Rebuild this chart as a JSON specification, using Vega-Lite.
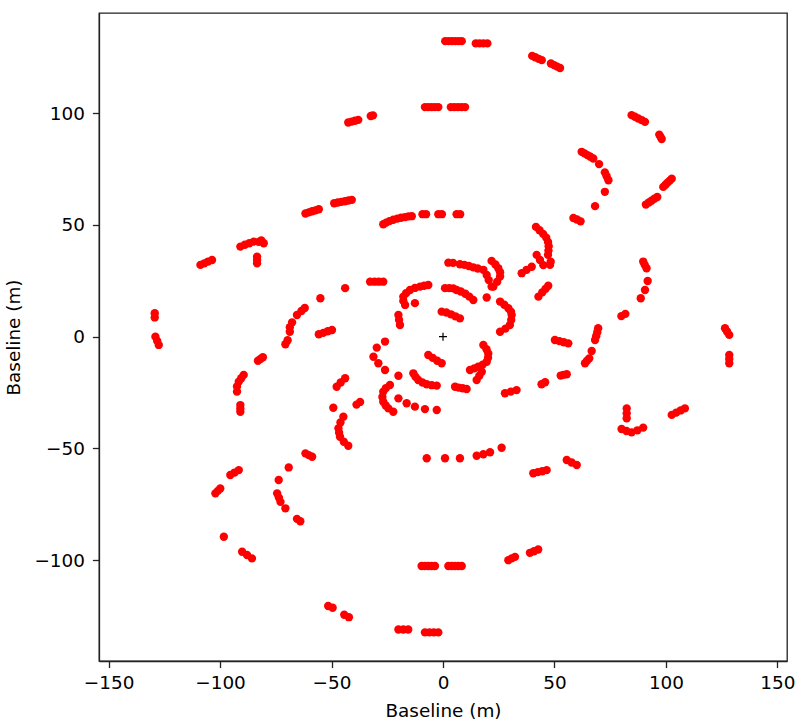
{
  "$schema": "https://vega.github.io/schema/vega-lite/v6.json",
  "width": 688,
  "height": 648,
  "autosize": "none",
  "padding": {"left": 99, "top": 13, "right": 19, "bottom": 65},
  "background": "white",
  "config": {
    "view": {"stroke": "#222", "strokeWidth": 1.3},
    "axis": {
      "labelFont": "DejaVu Sans", "titleFont": "DejaVu Sans",
      "labelFontSize": 18.4, "titleFontSize": 18.4, "titleFontWeight": "normal",
      "labelColor": "#000", "titleColor": "#000",
      "domainColor": "#222", "domainWidth": 1.3, "tickColor": "#222", "tickWidth": 1.3,
      "tickSize": 6.6, "grid": false
    }
  },
  "datasets": {
    "uv": [
      {"u":1,"v":132.2},{"u":2.5,"v":132.2},{"u":4,"v":132.2},{"u":5.5,"v":132.2},{"u":7,"v":132.2},{"u":8.4,"v":132.2},
      {"u":14.7,"v":131.2},{"u":16.4,"v":131.2},{"u":18.1,"v":131.2},{"u":19.9,"v":131.2},
      {"u":40,"v":125.6},{"u":41.4,"v":125},{"u":42.9,"v":124.3},{"u":44.3,"v":123.7},
      {"u":48.4,"v":122.2},{"u":49.8,"v":121.5},{"u":51.2,"v":120.8},{"u":52.5,"v":120.2},
      {"u":-8.1,"v":102.7},{"u":-6.6,"v":102.7},{"u":-5.1,"v":102.7},{"u":-3.6,"v":102.7},{"u":-2.1,"v":102.7},
      {"u":3.5,"v":102.7},{"u":5.1,"v":102.7},{"u":6.7,"v":102.7},{"u":8.3,"v":102.7},{"u":9.9,"v":102.7},
      {"u":-42.5,"v":95.8},{"u":-41,"v":96.2},{"u":-39.5,"v":96.6},{"u":-38,"v":97},
      {"u":-32.4,"v":98.7},{"u":-31.4,"v":99},
      {"u":-48.8,"v":59.7},{"u":-47.2,"v":60},{"u":-45.6,"v":60.3},{"u":-44,"v":60.6},{"u":-42.4,"v":60.9},{"u":-40.9,"v":61.2},
      {"u":-61.7,"v":55.1},{"u":-60.2,"v":55.6},{"u":-58.7,"v":56.1},{"u":-57.2,"v":56.5},{"u":-55.7,"v":57},
      {"u":-26.8,"v":50.3},{"u":-25.5,"v":51},{"u":-24,"v":51.7},{"u":-22.3,"v":52.3},{"u":-20.5,"v":52.8},{"u":-18.8,"v":53.2},{"u":-17,"v":53.5},{"u":-15.5,"v":53.8},{"u":-14,"v":53.9},
      {"u":-9.2,"v":54.8},{"u":-7.6,"v":54.8},{"u":-2.1,"v":54.8},{"u":-0.5,"v":54.8},{"u":6.1,"v":54.8},{"u":7.7,"v":54.8},
      {"u":84.6,"v":99.1},{"u":86.1,"v":98.4},{"u":87.6,"v":97.6},{"u":89.1,"v":96.9},{"u":90.6,"v":96.1},
      {"u":97,"v":90.4},{"u":97.6,"v":89.4},{"u":98.1,"v":88.4},
      {"u":98.8,"v":67},{"u":99.8,"v":68},{"u":100.7,"v":68.9},{"u":101.7,"v":69.8},{"u":102.6,"v":70.7},
      {"u":91,"v":59.1},{"u":92.3,"v":60},{"u":93.5,"v":60.8},{"u":94.8,"v":61.7},{"u":96.1,"v":62.5},
      {"u":62.2,"v":82.7},{"u":63.5,"v":82},{"u":64.8,"v":81.2},{"u":66.1,"v":80.5},{"u":67.4,"v":79.7},
      {"u":70,"v":77.2},{"u":72.6,"v":73.5},{"u":73.4,"v":71.8},{"u":74.2,"v":70},{"u":72.6,"v":64.8},{"u":68.2,"v":58.4},
      {"u":58.5,"v":53.1},{"u":60.1,"v":52.4},{"u":61.7,"v":51.6},
      {"u":41.7,"v":49.1},{"u":43.3,"v":47.6},{"u":44.9,"v":46},{"u":46.3,"v":44.3},{"u":47.1,"v":42.4},{"u":47.4,"v":40.5},{"u":47.3,"v":38.5},{"u":47.1,"v":36.6},
      {"u":42,"v":36.6},{"u":43.5,"v":34.3},{"u":45,"v":32},
      {"u":35.3,"v":28.4},{"u":37.5,"v":29.9},{"u":39.8,"v":31.3},
      {"u":48,"v":32.1},{"u":48.3,"v":33.5},
      {"u":42.8,"v":17.9},{"u":44.5,"v":19.8},{"u":46,"v":21.4},{"u":47.2,"v":22.8},
      {"u":2.4,"v":33.1},{"u":4.5,"v":33},{"u":7.6,"v":32.4},{"u":9.6,"v":32.1},{"u":11.6,"v":31.6},{"u":13.6,"v":31},{"u":15.6,"v":30.5},{"u":18.1,"v":29.9},{"u":19.6,"v":27.6},{"u":20.5,"v":25.3},{"u":21.8,"v":22.4},
      {"u":21.8,"v":33.9},{"u":23.5,"v":32.3},{"u":24.8,"v":30.6},{"u":25.6,"v":28.8},{"u":25.6,"v":26.9},{"u":24.3,"v":24.6},{"u":22.6,"v":22.4},
      {"u":0.9,"v":21.7},{"u":2.8,"v":21.7},{"u":4.6,"v":21.6},
      {"u":6.1,"v":20.9},{"u":8,"v":20.2},{"u":10,"v":19.2},{"u":11.8,"v":17.9},{"u":13.6,"v":16.4},
      {"u":19.6,"v":17.5},
      {"u":25.6,"v":15.7},{"u":27.5,"v":14.3},{"u":29.3,"v":12.7},{"u":30.5,"v":11.2},{"u":30.8,"v":9.7},{"u":30.6,"v":7.5},{"u":30,"v":5.2},{"u":28,"v":3.6},{"u":25.6,"v":2.2},
      {"u":-0.6,"v":11.2},{"u":1.5,"v":10.8},{"u":3.6,"v":10},{"u":5.6,"v":9.1},{"u":7.6,"v":8.2},
      {"u":-6.6,"v":23.1},{"u":-8.5,"v":22.8},{"u":-10.3,"v":22.4},{"u":-12.6,"v":21.8},{"u":-14.8,"v":20.9},{"u":-16.5,"v":19.5},{"u":-17.8,"v":17.9},{"u":-17.8,"v":16},{"u":-17,"v":14.2},
      {"u":-12.6,"v":15},
      {"u":-20,"v":9.7},{"u":-19.7,"v":7.5},{"u":-19.3,"v":5.2},
      {"u":-43.9,"v":21.7},
      {"u":-32.7,"v":24.6},{"u":-30.7,"v":24.6},{"u":-28.8,"v":24.6},{"u":-26.8,"v":24.6},
      {"u":-26,"v":-2.2},{"u":-29.7,"v":-4.9},{"u":-31.2,"v":-9},{"u":-29,"v":-11.9},{"u":-26,"v":-14.9},{"u":-20,"v":-17.5},
      {"u":-6.6,"v":-8.2},{"u":-4.6,"v":-9.5},{"u":-2.6,"v":-10.8},{"u":-0.6,"v":-11.9},
      {"u":-13.3,"v":-16.4},{"u":-12.3,"v":-18},{"u":-11.1,"v":-19.4},{"u":-9.2,"v":-20.5},{"u":-7.3,"v":-21.3},{"u":-5,"v":-21.7},{"u":-2.8,"v":-21.9},
      {"u":5.4,"v":-22.4},{"u":7,"v":-22.8},{"u":8.8,"v":-23.1},{"u":10.6,"v":-23.4},
      {"u":18.1,"v":-3.7},{"u":19.5,"v":-5.6},{"u":20.3,"v":-7.5},{"u":20.2,"v":-9.4},{"u":19.6,"v":-11.2},{"u":17.8,"v":-12.5},{"u":15.8,"v":-13.4},{"u":14,"v":-14.2},{"u":12.1,"v":-14.9},
      {"u":17.4,"v":-15.7},{"u":16.3,"v":-17.5},{"u":15.1,"v":-19.4},
      {"u":-23.8,"v":-21.6},{"u":-25.6,"v":-23},{"u":-26.8,"v":-24.6},{"u":-27.2,"v":-27},{"u":-26.8,"v":-29.1},{"u":-25.7,"v":-30.8},{"u":-24.5,"v":-32.1},{"u":-22.3,"v":-33.6},
      {"u":-20,"v":-27.6},{"u":-16.3,"v":-29.8},{"u":-12.6,"v":-31.3},{"u":-8.1,"v":-32.4},{"u":-2.8,"v":-32.8},
      {"u":-43.9,"v":-18.6},{"u":-45.9,"v":-20.5},{"u":-47.7,"v":-22.4},
      {"u":-38.8,"v":-30.4},{"u":-37.2,"v":-29.2},
      {"u":-49.2,"v":-31.8},
      {"u":-44.7,"v":-35.8},{"u":-46,"v":-38.4},{"u":-46.9,"v":-41},{"u":-46.6,"v":-43},{"u":-46.2,"v":-44.8},{"u":-44.5,"v":-47},{"u":-42.5,"v":-48.8},
      {"u":-7.3,"v":-54.4},{"u":0.9,"v":-54.4},{"u":7.6,"v":-54.4},
      {"u":15.1,"v":-53.3},{"u":18.1,"v":-52.6},{"u":21.1,"v":-51.7},{"u":26.3,"v":-49.7},
      {"u":50.2,"v":-1.5},{"u":52.2,"v":-2},{"u":54.2,"v":-2.5},{"u":56.2,"v":-3},
      {"u":44.2,"v":-21.3},{"u":45.8,"v":-20.4},
      {"u":52.8,"v":-17.4},{"u":54,"v":-17.1},{"u":55.5,"v":-16.8},
      {"u":27.8,"v":-25.3},{"u":30.4,"v":-24.6},{"u":33,"v":-23.9},
      {"u":89.8,"v":33.6},{"u":90.5,"v":32.1},{"u":91.3,"v":30.6},
      {"u":91.8,"v":24.9},{"u":90.6,"v":20.9},{"u":88.7,"v":17.2},{"u":80,"v":9.2},{"u":81.8,"v":10.2},
      {"u":69.6,"v":3.8},{"u":69.2,"v":2},{"u":68.7,"v":0.2},{"u":68.2,"v":-1.5},
      {"u":66.7,"v":-6.4},
      {"u":63.7,"v":-11.9},{"u":64.6,"v":-10.8},{"u":65.6,"v":-9.7},
      {"u":126.5,"v":3.8},{"u":127.4,"v":2.3},{"u":128.4,"v":0.8},
      {"u":128.4,"v":-8.2},{"u":128.4,"v":-10},{"u":128.4,"v":-11.9},
      {"u":82.4,"v":-32.1},{"u":82.4,"v":-34.3},{"u":82.4,"v":-36.5},
      {"u":80.1,"v":-41.3},{"u":82.3,"v":-42.2},{"u":84.6,"v":-42.8},{"u":87.2,"v":-41.9},{"u":89.8,"v":-40.7},
      {"u":102.6,"v":-35},{"u":104.6,"v":-34},{"u":106.6,"v":-33},{"u":108.5,"v":-32.1},
      {"u":55.5,"v":-55.2},{"u":57.7,"v":-56.3},{"u":60,"v":-57.4},
      {"u":40.5,"v":-61.1},{"u":42.5,"v":-60.6},{"u":44.5,"v":-60.2},{"u":46.5,"v":-59.7},
      {"u":-90.9,"v":40.3},{"u":-88.9,"v":41.1},{"u":-86.9,"v":41.8},{"u":-84.9,"v":42.5},{"u":-82.7,"v":42.4},{"u":-81.5,"v":43},{"u":-80.4,"v":41.8},
      {"u":-83.4,"v":35.8},{"u":-83.4,"v":34.3},{"u":-83.4,"v":32.8},
      {"u":-108.8,"v":32.1},{"u":-107.1,"v":32.8},{"u":-105.4,"v":33.6},{"u":-103.6,"v":34.3},
      {"u":-129.3,"v":10.5},{"u":-129.3,"v":8.6},
      {"u":-129,"v":0},{"u":-128.2,"v":-1.9},{"u":-127.5,"v":-3.7},
      {"u":-55,"v":17.2},{"u":-62,"v":12.8},{"u":-63.5,"v":11.5},{"u":-65.5,"v":9.7},{"u":-67.7,"v":6.4},{"u":-68.7,"v":4.2},{"u":-68.7,"v":2.2},{"u":-69.7,"v":-1.6},{"u":-70.7,"v":-3.4},
      {"u":-55.7,"v":1.1},{"u":-53.7,"v":1.7},{"u":-51.7,"v":2.4},{"u":-49.8,"v":3},
      {"u":-83,"v":-10.8},{"u":-81.9,"v":-10},{"u":-80.8,"v":-9.2},
      {"u":-89.4,"v":-17.1},{"u":-90.5,"v":-18.6},{"u":-91.6,"v":-20.1},{"u":-92.4,"v":-22.3},{"u":-92.4,"v":-24.6},
      {"u":-90.9,"v":-30.6},{"u":-90.9,"v":-32.1},{"u":-90.9,"v":-33.6},
      {"u":-61.7,"v":-52.2},{"u":-60.2,"v":-53},{"u":-58.7,"v":-53.7},
      {"u":-95.4,"v":-61.9},{"u":-93.5,"v":-60.8},{"u":-91.6,"v":-59.7},
      {"u":-102.1,"v":-70.1},{"u":-101,"v":-69},{"u":-99.9,"v":-67.9},
      {"u":-69.2,"v":-58.5},{"u":-73.7,"v":-64.1},{"u":-74.4,"v":-70.1},{"u":-73.6,"v":-72},{"u":-72.9,"v":-73.9},{"u":-70.7,"v":-76.8},{"u":-65.5,"v":-81.5},{"u":-64,"v":-82.6},
      {"u":-98.3,"v":-89.5},
      {"u":-90.1,"v":-96.2},{"u":-87.9,"v":-97.7},{"u":-85.7,"v":-99.2},
      {"u":-51.5,"v":-120.5},{"u":-49.5,"v":-121.3},
      {"u":-44.3,"v":-124.4},{"u":-42.2,"v":-125.5},
      {"u":-20,"v":-131},{"u":-17.8,"v":-131},{"u":-15.6,"v":-131},
      {"u":-8.1,"v":-132.3},{"u":-6.1,"v":-132.3},{"u":-4.1,"v":-132.3},{"u":-2.1,"v":-132.3},
      {"u":-9.6,"v":-102.6},{"u":-8.1,"v":-102.6},{"u":-6.6,"v":-102.6},{"u":-5.1,"v":-102.6},{"u":-3.6,"v":-102.6},
      {"u":2.4,"v":-102.6},{"u":3.9,"v":-102.6},{"u":5.4,"v":-102.6},{"u":6.9,"v":-102.6},{"u":8.4,"v":-102.6},
      {"u":29.3,"v":-100},{"u":30.8,"v":-99.2},{"u":32.3,"v":-98.5},
      {"u":39,"v":-96.7},{"u":40.8,"v":-96},{"u":42.7,"v":-95.2}
    ],
    "origin": [{"u":0,"v":0}]
  },
  "encoding": {
    "x": {"field": "u", "type": "quantitative", "title": "Baseline (m)",
      "scale": {"domain": [-154.3, 154.3], "nice": false, "zero": false},
      "axis": {"values": [-150,-100,-50,0,50,100,150], "labelPadding": 6, "titlePadding": 9}},
    "y": {"field": "v", "type": "quantitative", "title": "Baseline (m)",
      "scale": {"domain": [-145.1, 144.8], "nice": false, "zero": false},
      "axis": {"values": [-100,-50,0,50,100], "labelPadding": 8, "titlePadding": 10}}
  },
  "layer": [
    {"data": {"name": "uv"}, "mark": {"type": "circle", "color": "#ff0000", "opacity": 1, "size": 70}},
    {"data": {"name": "origin"}, "mark": {"type": "point", "shape": "M-1,0L1,0M0,-1L0,1", "stroke": "#000", "strokeWidth": 1.2, "size": 64, "filled": false, "opacity": 1}}
  ]
}
